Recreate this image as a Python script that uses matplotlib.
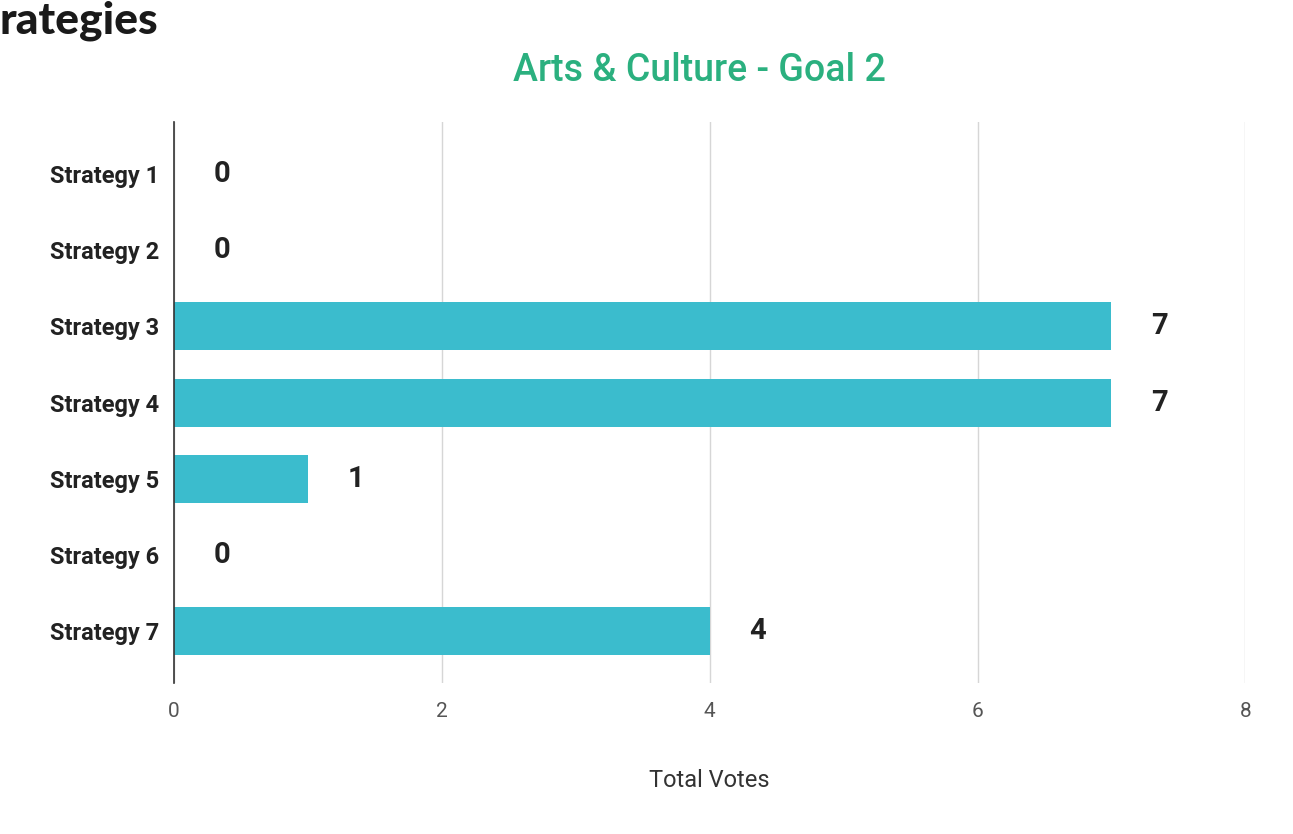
import matplotlib.pyplot as plt

# data
strategies = ['Strategy 1', 'Strategy 2', 'Strategy 3', 'Strategy 4',
              'Strategy 5', 'Strategy 6', 'Strategy 7']
votes = [0, 0, 7, 7, 1, 0, 4]
x_ticks = [0, 2, 4, 6, 8]

bar_color = '#3bbccd'
title_color = '#2bb07f'

fig = plt.figure(figsize=(12.93, 8.34), dpi=100)
ax = fig.add_axes([0.1346, 0.181, 0.8286, 0.6727])

y = list(range(len(strategies)))
ax.barh(y, votes, height=0.63, color=bar_color, zorder=3)

ax.set_ylim(6.68, -0.68)
ax.set_xlim(0, 8)
ax.set_yticks(y)
ax.set_yticklabels(strategies, fontfamily='Roboto', fontweight='bold',
                   fontsize=17, color='#222222')
ax.set_xticks(x_ticks)
ax.set_xticklabels([str(t) for t in x_ticks], fontfamily='Roboto',
                   fontsize=15, color='#555555')
ax.tick_params(axis='y', length=0, pad=11)
ax.tick_params(axis='x', length=0, pad=14)

ax.grid(axis='x', color='#d6d6d6', linewidth=1, zorder=0)
for s in ['top', 'right', 'bottom']:
    ax.spines[s].set_visible(False)
ax.spines['left'].set_color('#333333')
ax.spines['left'].set_linewidth(1.2)
ax.spines['left'].set_zorder(4)

# value labels
for yi, v in zip(y, votes):
    ax.annotate(str(v), xy=(v, yi), xytext=(48, 0), textcoords='offset pixels',
                ha='center', va='center', fontfamily='Roboto',
                fontweight='bold', fontsize=21, color='#222222')

ax.set_xlabel('Total Votes', fontfamily='Roboto', fontsize=17,
              color='#333333', labelpad=34)

fig.text(0.5406, 0.915, 'Arts & Culture - Goal 2', ha='center', va='center',
         fontfamily='Roboto', fontweight='medium', fontsize=27, color=title_color)

# page heading at the top-left (clipped in the source screenshot)
fig.text(0.0, 0.999, 'rategies', ha='left', va='top',
         fontfamily='Lato', fontweight='black', fontsize=32, color='#1a1a1a')

fig.savefig('out.png', dpi=100)
